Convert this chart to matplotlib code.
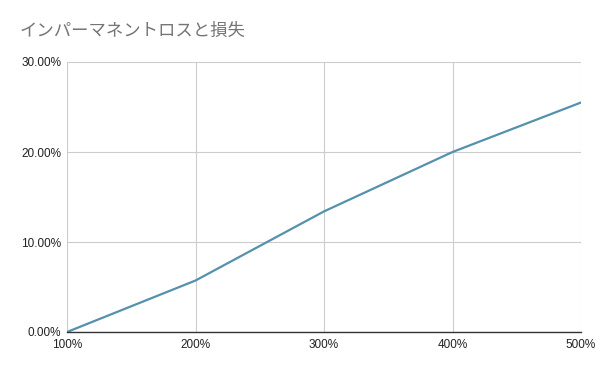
import matplotlib
matplotlib.use("Agg")
import matplotlib.pyplot as plt
from matplotlib.ticker import FuncFormatter

plt.rcParams['font.family'] = ['Noto Sans CJK JP', 'DejaVu Sans']

price_ratio = [1, 2, 3, 4, 5]          # 100% .. 500%
loss = [0.0, 0.0572, 0.134, 0.20, 0.255]
title = "インパーマネントロスと損失"

fig = plt.figure(figsize=(6, 3.71), dpi=100)
ax = fig.add_axes([67/600, 1-332/371, (581-67)/600, (332-62)/371])

ax.plot(price_ratio, loss, color='#5591ad', linewidth=1.6, solid_capstyle='round')

ax.set_xlim(1, 5)
ax.set_ylim(0, 0.30)
ax.set_xticks(price_ratio)
ax.set_yticks([0, 0.1, 0.2, 0.3])
ax.xaxis.set_major_formatter(FuncFormatter(lambda v, p: f"{v*100:.0f}%"))
ax.yaxis.set_major_formatter(FuncFormatter(lambda v, p: f"{v*100:.2f}%"))
ax.grid(True, color='#cccccc', linewidth=0.8)
ax.set_axisbelow(True)
for s in ['top', 'right', 'left']:
    ax.spines[s].set_visible(False)
ax.spines['bottom'].set_color('#333333')
ax.spines['bottom'].set_linewidth(1.0)
ax.tick_params(length=0, labelsize=8.5, colors='#222222', pad=4)
ax.tick_params(axis='x', pad=5)
for lbl in ax.get_xticklabels() + ax.get_yticklabels():
    lbl.set_fontfamily(['Liberation Sans', 'DejaVu Sans'])

fig.text(20/600, 1-31/371, title, fontsize=12.5, color='#757575', va='center', ha='left')

fig.savefig("out.png", dpi=100)
